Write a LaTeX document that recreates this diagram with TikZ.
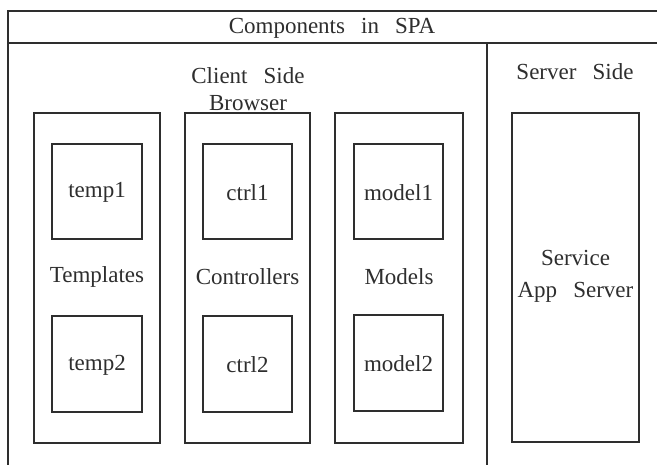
\documentclass[tikz,border=0pt]{standalone}
\usepackage{fontspec}
\setmainfont{Liberation Serif}
\usetikzlibrary{fit}
\newcommand{\wsp}{\hspace{0.7em}}
\definecolor{ink}{HTML}{2E2E2E}
\tikzset{
  box/.style={draw=ink, line width=1.4pt, inner sep=0pt},
  lbl/.style={text=ink, font=\fontsize{23}{27}\selectfont, inner sep=0pt},
  lbl2/.style={lbl, align=center}
}
\begin{document}
\begin{tikzpicture}[x=1pt,y=-1pt]
  \useasboundingbox (0,0) rectangle (657,464);
  \clip (0,0) rectangle (657,464);
  \fill[white] (0,0) rectangle (657,464);

  % outer frame, title row and the client/server divider
  \node[box, fit={(8,11) (680,490)}] (frame) {};
  \coordinate (hl) at (8,43);
  \coordinate (hr) at (680,43);
  \draw[draw=ink, line width=1.4pt] (hl) -- (hr);
  \coordinate (dt) at (487,43);
  \coordinate (db) at (487,490);
  \draw[draw=ink, line width=1.4pt] (dt) -- (db);

  \node[lbl] (title) at (332,28) {Components\wsp in\wsp SPA};
  \node[lbl2] (client) at (248,89) {Client\wsp Side\\Browser};
  \node[lbl] (server) at (575,72) {Server\wsp Side};

  % client side groups
  \node[box, fit={(34,113) (160,443)}] (templates) {};
  \node[box, fit={(185,113) (310,443)}] (controllers) {};
  \node[box, fit={(335,113) (463,443)}] (models) {};
  \node[lbl] (tlbl) at (97,277) {Templates};
  \node[lbl] (clbl) at (247.5,277) {Controllers};
  \node[lbl] (mlbl) at (399,277) {Models};

  \node[box, fit={(52,144) (142,239)}] (temp1) {};
  \node[box, fit={(52,316) (142,412)}] (temp2) {};
  \node[box, fit={(203,144) (292,239)}] (ctrl1) {};
  \node[box, fit={(203,316) (292,412)}] (ctrl2) {};
  \node[box, fit={(354,144) (443,239)}] (model1) {};
  \node[box, fit={(354,315) (443,411)}] (model2) {};
  \node[lbl] at ([yshift=-1pt]temp1.center) {temp1};
  \node[lbl] at ([yshift=-1pt]temp2.center) {temp2};
  \node[lbl] at ([yshift=-1pt]ctrl1.center) {ctrl1};
  \node[lbl] at ([yshift=-1pt]ctrl2.center) {ctrl2};
  \node[lbl] at ([yshift=-1pt]model1.center) {model1};
  \node[lbl] at ([yshift=-1pt]model2.center) {model2};

  % server side
  \node[box, fit={(512,113) (639,442)}] (srv) {};
  \node[lbl2, font=\fontsize{23}{32}\selectfont] (srvlbl) at (575.5,276)
    {Service\\App\wsp Server};
\end{tikzpicture}
\end{document}
